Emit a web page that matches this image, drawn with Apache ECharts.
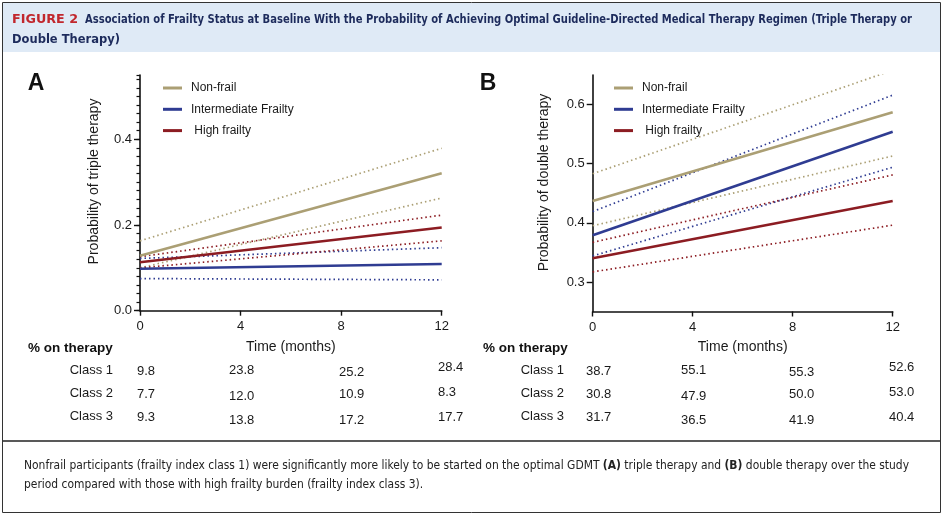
<!DOCTYPE html>
<html><head><meta charset="utf-8">
<script src="https://cdn.jsdelivr.net/npm/echarts@6/dist/echarts.min.js"></script>
<style>html,body{margin:0;padding:0;background:#fff}#c{width:945px;height:519px}</style>
</head><body><div id="c"></div>
<script>
// ---------- data ----------
const months = [0, 12];
const seriesNames = ['Non-frail', 'Intermediate Frailty', ' High frailty'];
const colors = ['#ab9f74', '#2f3c92', '#8c1c22'];

// Panel A: probability of triple therapy
const tripleNonFrail        = [0.128, 0.321];
const tripleNonFrailUpper   = [0.163, 0.379];
const tripleNonFrailLower   = [0.100, 0.263];
const tripleInterm          = [0.098, 0.109];
const tripleIntermUpper     = [0.122, 0.147];
const tripleIntermLower     = [0.075, 0.072];
const tripleHigh            = [0.113, 0.194];
const tripleHighUpper       = [0.126, 0.223];
const tripleHighLower       = [0.100, 0.163];

// Panel B: probability of double therapy
const doubleNonFrail        = [0.437, 0.587];
const doubleNonFrailUpper   = [0.483, 0.658];
const doubleNonFrailLower   = [0.395, 0.513];
const doubleInterm          = [0.379, 0.554];
const doubleIntermUpper     = [0.419, 0.616];
const doubleIntermLower     = [0.344, 0.494];
const doubleHigh            = [0.340, 0.437];
const doubleHighUpper       = [0.367, 0.481];
const doubleHighLower       = [0.317, 0.396];

// Tick labels
const xTicks = [0, 4, 8, 12];
const yTicksA = [0, 0.2, 0.4];
const yTicksB = [0.3, 0.4, 0.5, 0.6];

// % on therapy tables
const tableClasses = ['Class 1', 'Class 2', 'Class 3'];
const tripleTable = [
  ['9.8', '23.8', '25.2', '28.4'],
  ['7.7', '12.0', '10.9', '8.3'],
  ['9.3', '13.8', '17.2', '17.7']
];
const doubleTable = [
  ['38.7', '55.1', '55.3', '52.6'],
  ['30.8', '47.9', '50.0', '53.0'],
  ['31.7', '36.5', '41.9', '40.4']
];

const figLabel = 'FIGURE 2';
const titleText = 'Association of Frailty Status at Baseline With the Probability of Achieving Optimal Guideline-Directed Medical Therapy Regimen (Triple Therapy or';
const titleText2 = 'Double Therapy)';
const caption1a = 'Nonfrail participants (frailty index class 1) were significantly more likely to be started on the optimal GDMT ';
const caption1b = ' triple therapy and ';
const caption1c = ' double therapy over the study';
const caption2 = 'period compared with those with high frailty burden (frailty index class 3).';

// ---------- helpers ----------
const FONT = 'Liberation Sans, Arial, sans-serif';
const NARROW = '"Liberation Sans Narrow", "DejaVu Sans Condensed", "Roboto Condensed", sans-serif';
const pts = arr => months.map((m, i) => [m, arr[i]]);
const mctx = document.createElement('canvas').getContext('2d');
function textW(font, s) { mctx.font = font; return mctx.measureText(s).width; }

function solid(name, arr, color, gi) {
  return { name, type: 'line', xAxisIndex: gi, yAxisIndex: gi === 0 ? 0 : 2, data: pts(arr),
    showSymbol: false, symbol: 'none', silent: true, z: 3,
    itemStyle: { color }, lineStyle: { color, width: 2.6 } };
}
function dotted(name, arr, color, gi) {
  return { name, type: 'line', xAxisIndex: gi, yAxisIndex: gi === 0 ? 0 : 2, data: pts(arr),
    showSymbol: false, symbol: 'none', silent: true, z: 2,
    itemStyle: { color }, lineStyle: { color, width: 1.7, type: [1.5, 3] } };
}

const seriesA = [
  [tripleNonFrail, tripleNonFrailUpper, tripleNonFrailLower],
  [tripleInterm, tripleIntermUpper, tripleIntermLower],
  [tripleHigh, tripleHighUpper, tripleHighLower]
];
const seriesB = [
  [doubleNonFrail, doubleNonFrailUpper, doubleNonFrailLower],
  [doubleInterm, doubleIntermUpper, doubleIntermLower],
  [doubleHigh, doubleHighUpper, doubleHighLower]
];
const series = [];
[seriesA, seriesB].forEach((set, gi) => {
  set.forEach((s, k) => {
    series.push(dotted(seriesNames[k] + ' upper ' + gi, s[1], colors[k], gi));
    series.push(dotted(seriesNames[k] + ' lower ' + gi, s[2], colors[k], gi));
  });
  set.forEach((s, k) => series.push(solid(seriesNames[k], s[0], colors[k], gi)));
});

const axisLine = { show: true, lineStyle: { color: '#111', width: 1.6 } };
function xAxis(gi) {
  return { type: 'value', gridIndex: gi, min: 0, max: 12, interval: 4,
    name: 'Time (months)', nameLocation: 'middle', nameGap: 29,
    nameTextStyle: { fontFamily: FONT, fontSize: 14, color: '#1a1a1a' },
    axisLine, axisTick: { show: true, length: 5, lineStyle: { color: '#111', width: 1.4 } },
    axisLabel: { margin: 9, fontFamily: FONT, fontSize: 13, color: '#1a1a1a' },
    splitLine: { show: false } };
}

const legendCommon = {
  orient: 'vertical', icon: 'rect', itemWidth: 19, itemHeight: 3, itemGap: 7.3, padding: 0,
  data: seriesNames, selectedMode: false,
  textStyle: { fontFamily: FONT, fontSize: 12, color: '#1a1a1a', lineHeight: 14, padding: [0, 0, 0, 4] }
};

// ---------- header / caption fitting ----------
const titleFont = 'bold 12px ' + NARROW;
const titleScale = 827 / textW(titleFont, titleText);
const figScale = 66 / textW(titleFont, figLabel);
const title2Scale = 108 / textW(titleFont, titleText2);
const capFont = '12px ' + NARROW;
const capBold = 'bold 12px ' + NARROW;
const cap1W = textW(capFont, caption1a + caption1b + caption1c) + textW(capBold, '(A)(B)');
const capScale = Math.min(1.15, 885 / cap1W);

// ---------- graphics (frame, header, caption, labels, tables) ----------
const graphic = [
  { type: 'rect', shape: { x: 3, y: 3, width: 937, height: 49 }, style: { fill: '#dfeaf6' }, z: -1 },
  { type: 'rect', shape: { x: 2.5, y: 2.5, width: 938, height: 510 }, style: { fill: 'none', stroke: '#333', lineWidth: 1 } },
  { type: 'line', shape: { x1: 3, y1: 441, x2: 940, y2: 441 }, style: { stroke: '#222', lineWidth: 1.5 } },
  { type: 'text', x: 12, y: 20, scaleX: figScale, style: { text: figLabel, verticalAlign: 'middle', font: titleFont, fill: '#c1272d' } },
  { type: 'text', x: 85, y: 20, scaleX: titleScale, style: { text: titleText, verticalAlign: 'middle', font: titleFont, fill: '#1d2b5c' } },
  { type: 'text', x: 12, y: 40, scaleX: title2Scale, style: { text: titleText2, verticalAlign: 'middle', font: titleFont, fill: '#1d2b5c' } },
  { type: 'text', x: 24, y: 466, scaleX: capScale, style: {
      text: '{n|' + caption1a + '}{b|(A)}{n|' + caption1b + '}{b|(B)}{n|' + caption1c + '}',
      verticalAlign: 'middle',
      rich: { n: { font: capFont, fill: '#222' }, b: { font: capBold, fill: '#222' } } } },
  { type: 'text', x: 24, y: 485, scaleX: capScale, style: { text: caption2, verticalAlign: 'middle', font: capFont, fill: '#222' } },
  { type: 'text', x: 36, y: 83.5, style: { text: 'A', align: 'center', verticalAlign: 'middle', font: 'bold 23px ' + FONT, fill: '#111' } },
  { type: 'text', x: 488, y: 83.5, style: { text: 'B', align: 'center', verticalAlign: 'middle', font: 'bold 23px ' + FONT, fill: '#111' } },
  { type: 'text', x: 94, y: 181.5, rotation: Math.PI / 2, style: { text: 'Probability of triple therapy', align: 'center', verticalAlign: 'middle', font: '14px ' + FONT, fill: '#1a1a1a' } },
  { type: 'text', x: 544, y: 182.5, rotation: Math.PI / 2, style: { text: 'Probability of double therapy', align: 'center', verticalAlign: 'middle', font: '14px ' + FONT, fill: '#1a1a1a' } }
];

function addTable(table, headX, classRight, colX, rowY) {
  graphic.push({ type: 'text', x: headX, y: 348, style: { text: '% on therapy', verticalAlign: 'middle', font: 'bold 13.5px ' + FONT, fill: '#111' } });
  tableClasses.forEach((c, r) => {
    graphic.push({ type: 'text', x: classRight, y: rowY[r][0] - 1, style: { text: c, align: 'right', verticalAlign: 'middle', font: '13px ' + FONT, fill: '#1a1a1a' } });
    table[r].forEach((v, j) => {
      graphic.push({ type: 'text', x: colX[j], y: rowY[r][j], style: { text: v, verticalAlign: 'middle', font: '13px ' + FONT, fill: '#1a1a1a' } });
    });
  });
}
const rowYs = [[371, 370, 372, 367], [394, 396, 394, 392], [417, 420, 420, 417]];
addTable(tripleTable, 28, 113, [137, 229, 339, 438], rowYs);
addTable(doubleTable, 483, 564, [586, 681, 789, 889], rowYs);

// ---------- chart ----------
const chart = echarts.init(document.getElementById('c'), null, { renderer: 'canvas' });
chart.setOption({
  backgroundColor: '#ffffff',
  animation: false,
  textStyle: { fontFamily: FONT },
  grid: [
    { left: 140, top: 75, width: 301.7, height: 235.7 },
    { left: 592.7, top: 75, width: 300, height: 236.5 }
  ],
  legend: [
    Object.assign({ left: 163, top: 81 }, legendCommon),
    Object.assign({ left: 614, top: 81 }, legendCommon)
  ],
  xAxis: [xAxis(0), xAxis(1)],
  yAxis: [
    { type: 'value', gridIndex: 0, min: 0, max: 0.55, axisLine,
      axisTick: { show: true, length: 6, customValues: yTicksA, lineStyle: { color: '#111', width: 1.4 } },
      axisLabel: { customValues: yTicksA, formatter: v => v.toFixed(1), margin: 8, fontSize: 13, color: '#1a1a1a', fontFamily: FONT },
      splitLine: { show: false } },
    { type: 'value', gridIndex: 0, min: 0, max: 0.55, interval: 0.02, position: 'left',
      axisLine: { show: false },
      axisTick: { show: true, length: 3.5, lineStyle: { color: '#111', width: 1.2 } },
      axisLabel: { show: false }, splitLine: { show: false } },
    { type: 'value', gridIndex: 1, min: 0.25, max: 0.65, axisLine,
      axisTick: { show: true, length: 6, customValues: yTicksB, lineStyle: { color: '#111', width: 1.4 } },
      axisLabel: { customValues: yTicksB, formatter: v => v.toFixed(1), margin: 8, fontSize: 13, color: '#1a1a1a', fontFamily: FONT },
      splitLine: { show: false } }
  ],
  series,
  graphic
});
</script></body></html>
